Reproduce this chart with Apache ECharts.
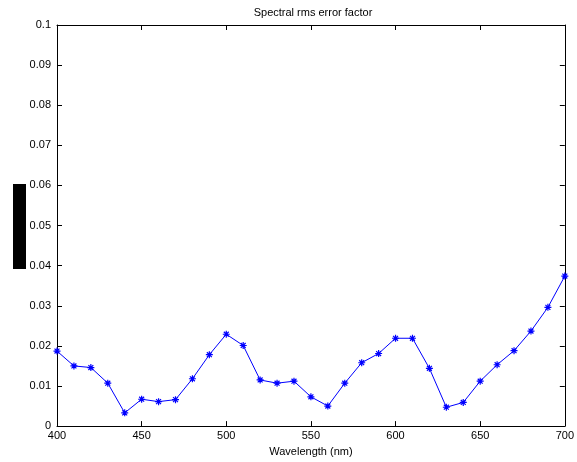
<!DOCTYPE html>
<html><head><meta charset="utf-8">
<script src="https://cdn.jsdelivr.net/npm/echarts@6/dist/echarts.min.js"></script>
<style>html,body{margin:0;padding:0;background:#fff}#c{width:577px;height:462px}</style>
</head><body><div id="c"></div>
<script>
const wavelengths = [400,410,420,430,440,450,460,470,480,490,500,510,520,530,540,550,560,570,580,590,600,610,620,630,640,650,660,670,680,690,700];
const rmsError = [0.0187,0.0150,0.0146,0.0107,0.0033,0.0067,0.0061,0.0066,0.0118,0.0178,0.0229,0.0201,0.0115,0.0107,0.0112,0.0073,0.0050,0.0107,0.0158,0.0181,0.0219,0.0219,0.0144,0.0047,0.0059,0.0112,0.0153,0.0188,0.0237,0.0296,0.0374];
const titleText = 'Spectral rms error factor';
const xLabel = 'Wavelength (nm)';

const chart = echarts.init(document.getElementById('c'));
const font = 'Liberation Sans, Arial, Helvetica, sans-serif';
const axisBase = {
  axisLine: {show: true, onZero: false, lineStyle: {color: '#000', width: 1}},
  axisTick: {show: true, inside: true, length: 5, lineStyle: {color: '#000'}},
  splitLine: {show: false},
  axisLabel: {color: '#000', fontSize: 11, fontFamily: font}
};
chart.setOption({
  animation: false,
  backgroundColor: '#fff',
  grid: {left: 57, right: 8, top: 25, bottom: 32, containLabel: false},
  xAxis: [
    Object.assign({}, axisBase, {type: 'value', min: 400, max: 700, interval: 50, position: 'bottom',
      name: xLabel, nameLocation: 'middle', nameGap: 16, nameTextStyle: {fontSize: 11, color: '#000', fontFamily: font},
      axisLabel: {color: '#000', fontSize: 11, fontFamily: font, margin: 4}}),
    Object.assign({}, axisBase, {type: 'value', min: 400, max: 700, interval: 50, position: 'top', axisLabel: {show: false}})
  ],
  yAxis: [
    Object.assign({}, axisBase, {type: 'value', min: 0, max: 0.1, interval: 0.01, position: 'left',
      axisLabel: {color: '#000', fontSize: 11, fontFamily: font, margin: 6, formatter: v => (Math.round(v*100)/100).toString()}}),
    Object.assign({}, axisBase, {type: 'value', min: 0, max: 0.1, interval: 0.01, position: 'right', axisLabel: {show: false}})
  ],
  graphic: [
    {type: 'rect', shape: {x: 13, y: 184, width: 13, height: 85}, style: {fill: '#000'}},
    {type: 'text', x: 313, y: 12.5, style: {text: titleText, fill: '#000', font: '11px ' + font, textAlign: 'center', textVerticalAlign: 'middle', align: 'center', verticalAlign: 'middle'}}
  ],
  series: [{
    type: 'line',
    xAxisIndex: 0, yAxisIndex: 0,
    data: wavelengths.map((w, i) => [w, rmsError[i]]),
    lineStyle: {color: '#0000ff', width: 1},
    symbol: 'path://M0,-5L0,5M-5,0L5,0M-3.5,-3.5L3.5,3.5M-3.5,3.5L3.5,-3.5',
    symbolSize: 7,
    itemStyle: {color: 'none', borderColor: '#0000ff', borderWidth: 1.2},
    showAllSymbol: true
  }]
});
</script></body></html>
